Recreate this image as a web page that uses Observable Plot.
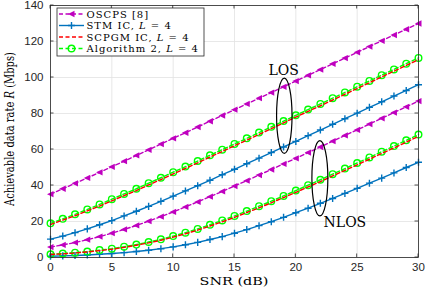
<!DOCTYPE html>
<html><head><meta charset="utf-8">
<script src="https://cdn.jsdelivr.net/npm/d3@7"></script>
<script src="https://cdn.jsdelivr.net/npm/@observablehq/plot@0.6"></script>
<style>
html,body{margin:0;padding:0;background:#fff;}
</style>
</head><body><div id="chart"></div>
<script>
// ---------- data ----------
const snr = [0,1,2,3,4,5,6,7,8,9,10,11,12,13,14,15,16,17,18,19,20,21,22,23,24,25,26,27,28,29,30];

const losOSCPS = [35.2,38.2,41.2,44.2,47.3,50.4,53.5,56.7,59.8,63.0,66.2,69.3,72.5,75.7,78.9,82.1,85.3,88.5,91.6,94.8,98.0,101.2,104.4,107.6,110.8,114.0,117.2,120.4,123.6,126.8,130.0];
const losSTM   = [10.2,11.9,13.8,15.9,18.2,20.5,23.1,25.7,28.4,31.2,34.1,37.0,39.9,42.9,46.0,49.0,52.1,55.2,58.3,61.4,64.5,67.7,70.8,74.0,77.1,80.2,83.4,86.5,89.7,92.8,96.0];
const losSCPGM = [18.3,20.8,23.2,25.9,28.6,31.5,34.4,37.2,40.3,43.3,46.4,49.5,52.6,55.8,58.9,62.1,65.2,68.4,71.6,74.8,78.0,81.2,84.3,87.5,90.7,93.9,97.1,100.3,103.5,106.7,109.9];
const losAlg2  = [19.0,21.5,24.0,26.7,29.5,32.4,35.3,38.2,41.3,44.3,47.4,50.5,53.6,56.8,59.9,63.1,66.2,69.4,72.6,75.8,79.0,82.2,85.3,88.5,91.7,94.9,98.1,101.3,104.5,107.7,110.9];

const nlosOSCPS = [5.8,7.0,8.3,9.9,11.6,13.5,15.6,17.8,20.2,22.7,25.3,28.1,30.9,33.8,36.7,39.7,42.7,45.8,48.9,52.0,55.1,58.3,61.4,64.6,67.8,70.9,74.1,77.3,80.5,83.7,86.9];
const nlosSTM   = [0.7,0.9,1.1,1.4,1.8,2.2,2.7,3.3,4.0,4.9,5.9,7.1,8.4,10.0,11.6,13.5,15.5,17.7,19.9,22.3,24.9,27.4,30.1,32.8,35.6,38.4,41.3,44.1,47.0,50.0,52.9];
const nlosSCPGM = [1.7,2.0,2.5,3.1,3.8,4.6,5.6,6.8,8.1,9.6,11.3,13.2,15.2,17.5,19.8,22.3,25.0,27.6,30.4,33.3,36.2,39.2,42.2,45.3,48.4,51.5,54.6,57.8,60.9,64.1,67.3];
const nlosAlg2  = [1.8,2.2,2.7,3.3,4.1,4.9,6.0,7.2,8.6,10.1,11.9,13.8,15.9,18.2,20.6,23.1,25.8,28.5,31.3,34.2,37.2,40.2,43.2,46.3,49.4,52.5,55.6,58.8,61.9,65.1,68.3];

const xTicks = [0,5,10,15,20,25,30];
const yTicks = [0,20,40,60,80,100,120,140];
const xLabel = "SNR (dB)";
const yLabelParts = ["Achievable data rate ", "R", " (Mbps)"];
const legendLabels = ["OSCPS [8]", "STM IC, L = 4", "SCPGM IC, L = 4", "Algorithm 2, L = 4"];

// annotations
const regionText = ["LOS", "NLOS"];
const regionX = [19.0, 24.0];
const regionY = [104.0, 19.5];
const ellipseX = [19.1, 22.0];
const ellipseY = [78.5, 43.7];
const ellipseRx = [0.63, 0.65];
const ellipseRy = [20.9, 20.9];

// ---------- styles ----------
const MAG = "#bf00bf", BLUE = "#0072bd", RED = "#ff0000", GREEN = "#00ff00";
const DASH = "4,2.5";

const leftTriangle = {
  draw(ctx, size) {
    const s = Math.sqrt(size / Math.PI);
    ctx.moveTo(-s, 0);
    ctx.lineTo(s * 0.85, -s * 0.9);
    ctx.lineTo(s * 0.85, s * 0.9);
    ctx.closePath();
  }
};

const rows = (vals) => snr.map((x, i) => ({x, y: vals[i]}));

function seriesMarks(vals, kind) {
  const d = rows(vals);
  const xy = {x: "x", y: "y"};
  if (kind === "oscps") return [
    Plot.line(d, {...xy, stroke: MAG, strokeWidth: 1.4, strokeDasharray: DASH}),
    Plot.dot(d, {...xy, symbol: leftTriangle, r: 3.5, fill: MAG, stroke: "none"})
  ];
  if (kind === "stm") return [
    Plot.line(d, {...xy, stroke: BLUE, strokeWidth: 1.4}),
    Plot.dot(d, {...xy, symbol: "plus", r: 2.4, stroke: BLUE, fill: "none", strokeWidth: 1.4})
  ];
  if (kind === "alg2") return [
    Plot.line(d, {...xy, stroke: GREEN, strokeWidth: 1.4, strokeDasharray: DASH}),
    Plot.dot(d, {...xy, symbol: "circle", r: 3.3, stroke: GREEN, fill: "none", strokeWidth: 1.4})
  ];
  if (kind === "scpgm") return [
    Plot.line(d, {...xy, stroke: RED, strokeWidth: 1.4, strokeDasharray: DASH})
  ];
}

// inward ticks on all four sides of the box
function inwardTicks(index, scales, values, dims) {
  const {x, y} = scales;
  const x0 = dims.marginLeft, x1 = dims.width - dims.marginRight;
  const y0 = dims.marginTop, y1 = dims.height - dims.marginBottom;
  const tk = 3.5;
  const g = d3.create("svg:g").attr("stroke", "#262626").attr("stroke-width", 0.8);
  for (const t of xTicks) {
    const px = x(t);
    g.append("line").attr("x1", px).attr("x2", px).attr("y1", y1).attr("y2", y1 - tk);
    g.append("line").attr("x1", px).attr("x2", px).attr("y1", y0).attr("y2", y0 + tk);
  }
  for (const t of yTicks) {
    const py = y(t);
    g.append("line").attr("x1", x0).attr("x2", x0 + tk).attr("y1", py).attr("y2", py);
    g.append("line").attr("x1", x1).attr("x2", x1 - tk).attr("y1", py).attr("y2", py);
  }
  return g.node();
}

function overlay(index, scales, values, dims) {
  const {x, y} = scales;
  const x0 = dims.marginLeft, x1 = dims.width - dims.marginRight;
  const y0 = dims.marginTop, y1 = dims.height - dims.marginBottom;
  const g = d3.create("svg:g");

  // ellipses
  ellipseX.forEach((cx, i) => {
    g.append("ellipse")
      .attr("cx", x(cx)).attr("cy", y(ellipseY[i]))
      .attr("rx", Math.abs(x(cx + ellipseRx[i]) - x(cx)))
      .attr("ry", Math.abs(y(ellipseY[i] + ellipseRy[i]) - y(ellipseY[i])))
      .attr("fill", "none").attr("stroke", "#000").attr("stroke-width", 1.2);
  });

  // axis labels
  g.append("text")
    .attr("x", (x0 + x1) / 2).attr("y", dims.height - 3)
    .attr("text-anchor", "middle")
    .attr("font-family", "'DejaVu Serif', serif").attr("font-size", 11.5)
    .attr("textLength", 69).attr("lengthAdjust", "spacingAndGlyphs")
    .attr("fill", "#000").text(xLabel);
  const yl = g.append("text")
    .attr("transform", `translate(${x0 - 36},${(y0 + y1) / 2 - 2}) rotate(-90)`)
    .attr("text-anchor", "middle")
    .attr("font-family", "'DejaVu Serif', serif").attr("font-size", 12)
    .attr("textLength", 154).attr("lengthAdjust", "spacingAndGlyphs")
    .attr("fill", "#000");
  yLabelParts.forEach((p, i) => {
    const t = yl.append("tspan").text(p);
    if (i === 1) t.attr("font-style", "italic");
  });

  // legend
  const lx = x0 + 7, ly = y0 + 3, lw = 147, lh = 48;
  const lg = g.append("g").attr("text-anchor", "start");
  lg.append("rect").attr("x", lx).attr("y", ly).attr("width", lw).attr("height", lh)
    .attr("fill", "#fff").attr("stroke", "#262626").attr("stroke-width", 0.8);
  const colors = [MAG, BLUE, RED, GREEN];
  const dashes = [DASH, null, DASH, DASH];
  legendLabels.forEach((lab, i) => {
    const cy = ly + 6 + i * 11.5;
    const ln = lg.append("line").attr("x1", lx + 2).attr("x2", lx + 27)
      .attr("y1", cy).attr("y2", cy).attr("stroke", colors[i]).attr("stroke-width", 1.4);
    if (dashes[i]) ln.attr("stroke-dasharray", dashes[i]);
    const mx = lx + 14.5;
    if (i === 0) lg.append("path").attr("transform", `translate(${mx},${cy})`)
      .attr("d", d3.symbol(leftTriangle, 3.5 * 3.5 * Math.PI)()).attr("fill", MAG);
    if (i === 1) lg.append("path").attr("transform", `translate(${mx},${cy})`)
      .attr("d", d3.symbol(d3.symbolPlus, 18)()).attr("fill", "none").attr("stroke", BLUE).attr("stroke-width", 1.4);
    if (i === 3) lg.append("circle").attr("cx", mx).attr("cy", cy).attr("r", 3.3)
      .attr("fill", "none").attr("stroke", GREEN).attr("stroke-width", 1.4);
    const t = lg.append("text").attr("x", lx + 29.5).attr("y", cy).attr("dy", "0.36em")
      .attr("text-anchor", "start")
      .attr("font-family", "'DejaVu Serif', serif").attr("font-size", 10)
      .attr("letter-spacing", 1).attr("fill", "#000");
    lab.split(/(L(?= =))/).forEach(p => {
      if (!p) return;
      const s = t.append("tspan").text(p);
      if (p === "L") s.attr("font-style", "italic");
    });
  });
  return g.node();
}

const chart = Plot.plot({
  width: 426,
  height: 288,
  marginLeft: 50,
  marginRight: 8,
  marginTop: 5,
  marginBottom: 31,
  x: {domain: [0, 30]},
  y: {domain: [0, 140]},
  style: {background: "#fff", color: "#262626", fontFamily: "'Liberation Sans', Arial, sans-serif", fontSize: "11.5px"},
  marks: [
    Plot.gridX({ticks: xTicks, stroke: "#e2e2e2", strokeOpacity: 1, strokeWidth: 0.8}),
    Plot.gridY({ticks: yTicks, stroke: "#e2e2e2", strokeOpacity: 1, strokeWidth: 0.8}),
    Plot.axisX({ticks: xTicks, tickSize: 0, tickPadding: 5, label: null, fontSize: 11.5}),
    Plot.axisY({ticks: yTicks, tickSize: 0, tickPadding: 7, label: null, fontSize: 11.5}),
    inwardTicks,
    ...seriesMarks(losOSCPS, "oscps"),
    ...seriesMarks(nlosOSCPS, "oscps"),
    ...seriesMarks(losSTM, "stm"),
    ...seriesMarks(nlosSTM, "stm"),
    ...seriesMarks(losAlg2, "alg2"),
    ...seriesMarks(nlosAlg2, "alg2"),
    ...seriesMarks(losSCPGM, "scpgm"),
    ...seriesMarks(nlosSCPGM, "scpgm"),
    Plot.frame({stroke: "#262626", strokeWidth: 0.8}),
    overlay,
    Plot.text(regionText.map((t, i) => ({t, x: regionX[i], y: regionY[i]})),
      {x: "x", y: "y", text: "t", fill: "#000", fontFamily: "'DejaVu Serif', serif", fontSize: 14})
  ]
});
document.getElementById("chart").appendChild(chart);
</script>
</body></html>
